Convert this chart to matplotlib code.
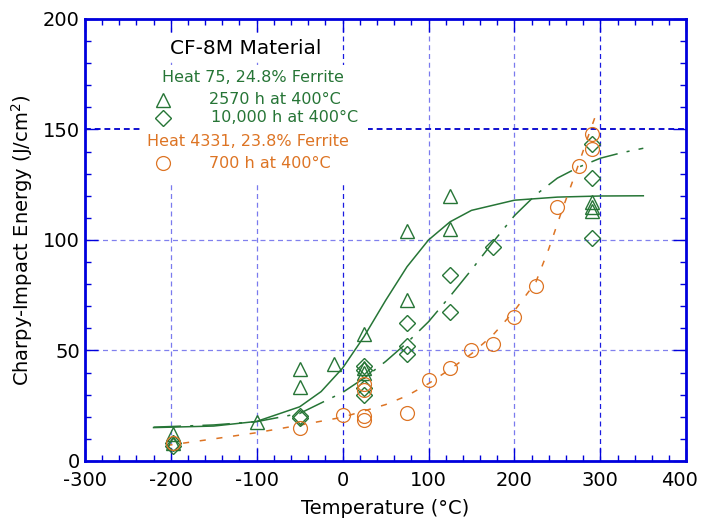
import matplotlib
matplotlib.use('Agg')
import matplotlib.pyplot as plt
import matplotlib.transforms as mtransforms
from matplotlib.patches import Rectangle
from matplotlib.ticker import MultipleLocator

plt.rcParams['axes.unicode_minus'] = False

# Heat 75, 24.8% ferrite, aged 2570 h at 400 C
temp_2570 = [-197, -197, -100, -50, -50, -10, 25, 25, 25, 75, 75, 125, 125, 290, 290, 290]
energy_2570 = [12, 8, 17.5, 41.5, 33.5, 44, 57.5, 42, 40, 104, 73, 120, 105, 117, 115, 113]

# Heat 75, 24.8% ferrite, aged 10,000 h at 400 C
temp_10000 = [-197, -197, -50, -50, 25, 25, 25, 25, 75, 75, 75, 125, 125, 175, 290, 290, 290]
energy_10000 = [8, 7, 20.5, 19.5, 43, 41, 33, 30, 62.5, 52, 48.5, 84, 67.5, 97, 143.5, 128, 101]

# Heat 4331, 23.8% ferrite, aged 700 h at 400 C
temp_700 = [-197, -50, 0, 25, 25, 25, 25, 75, 100, 125, 150, 175, 200, 225, 250, 275, 290, 290]
energy_700 = [8, 15, 21, 35, 32, 20.5, 18.5, 21.5, 36.5, 42, 50, 53, 65, 79, 115, 133.5, 148, 141]

# fitted transition curves
fit_2570_t = [-220, -150, -100, -50, -25, 0, 25, 50, 75, 100, 125, 150, 200, 250, 300, 350]
fit_2570_e = [15.1, 15.8, 17.9, 24.5, 31.4, 42, 56.3, 72.6, 87.9, 100, 108.2, 113.4, 118, 119.4, 119.9, 120]

fit_10000_t = [-220, -150, -100, -50, 0, 25, 50, 75, 100, 125, 150, 175, 200, 225, 250, 275, 300, 325, 350]
fit_10000_e = [15.3, 16.3, 17.8, 21.5, 31, 37.5, 45, 53.5, 63, 74.5, 86.5, 99, 111, 120.5, 128, 133, 137, 139.5, 141.5]

fit_700_t = [-205, -150, -100, -50, 0, 50, 75, 100, 125, 150, 175, 200, 225, 240, 255, 270, 285, 296]
fit_700_e = [7, 10, 12.8, 16.2, 19.8, 25.5, 29.5, 35, 41.5, 48.5, 57, 68, 81, 96, 113, 129, 146, 158]

green = '#267536'
orange = '#dd7424'
blue = '#0000dd'

fig = plt.figure(figsize=(7.01, 5.23), dpi=100)
ax = fig.add_axes([0.121, 0.1186, 0.858, 0.8451])

ax.set_xlim(-300, 400)
ax.set_ylim(0, 200)
ax.xaxis.set_major_locator(MultipleLocator(100))
ax.xaxis.set_minor_locator(MultipleLocator(20))
ax.yaxis.set_major_locator(MultipleLocator(50))
ax.yaxis.set_minor_locator(MultipleLocator(10))

# grid lines, a few drawn heavier
for x in [-200, -100, 0, 100, 200, 300]:
    dark = x in (0, 300)
    ax.axvline(x, color='#1a1ae0' if dark else '#7a7aee', lw=0.9, dashes=(4, 3), zorder=0)
for y in [50, 100, 150]:
    dark = y == 150
    ax.axhline(y, color='#1010d0' if dark else '#8080ee', lw=1.4 if dark else 0.9,
               dashes=(3, 2) if dark else (4, 3), zorder=0)

ax.plot(fit_2570_t, fit_2570_e, color=green, lw=1.1, zorder=2)
ax.plot(fit_10000_t, fit_10000_e, color=green, lw=1.1, dashes=(18, 6, 2, 6), zorder=2)
ax.plot(fit_700_t, fit_700_e, color=orange, lw=1.1, dashes=(4, 7), zorder=2)

ax.plot(temp_2570, energy_2570, ls='none', marker='^', ms=10, mfc='none', mec=green, mew=1.0, zorder=3)
ax.plot(temp_10000, energy_10000, ls='none', marker='D', ms=8.5, mfc='none', mec=green, mew=1.0, zorder=3)
ax.plot(temp_700, energy_700, ls='none', marker='o', ms=10, mfc='none', mec=orange, mew=0.9, zorder=3)

# key block in the upper left
ax.add_patch(Rectangle((0.0915, 0.629), 0.38, 0.267, transform=ax.transAxes,
                       facecolor='white', edgecolor='none', zorder=4))
ax.text(0.267, 0.934, 'CF-8M Material', transform=ax.transAxes, ha='center', va='center',
        fontsize=14.5, color='black', zorder=5,
        bbox=dict(facecolor='white', edgecolor='none', pad=2))
ax.text(0.28, 0.868, 'Heat 75, 24.8% Ferrite', transform=ax.transAxes, ha='center', va='center',
        fontsize=11.5, color=green, zorder=5)
ax.text(0.206, 0.817, '2570 h at 400°C', transform=ax.transAxes, ha='left', va='center',
        fontsize=11.5, color=green, zorder=5)
ax.text(0.209, 0.776, '10,000 h at 400°C', transform=ax.transAxes, ha='left', va='center',
        fontsize=11.5, color=green, zorder=5)
ax.text(0.104, 0.723, 'Heat 4331, 23.8% Ferrite', transform=ax.transAxes, ha='left', va='center',
        fontsize=11.5, color=orange, zorder=5)
ax.text(0.206, 0.674, '700 h at 400°C', transform=ax.transAxes, ha='left', va='center',
        fontsize=11.5, color=orange, zorder=5)
ax.plot([0.13], [0.817], transform=ax.transAxes, marker='^', ms=10, mfc='none', mec=green, mew=1.0, zorder=5)
ax.plot([0.13], [0.776], transform=ax.transAxes, marker='D', ms=8.5, mfc='none', mec=green, mew=1.0, zorder=5)
ax.plot([0.13], [0.674], transform=ax.transAxes, marker='o', ms=10, mfc='none', mec=orange, mew=0.9, zorder=5)

for s in ax.spines.values():
    s.set_color(blue)
    s.set_linewidth(2)
    s.set_zorder(6)

ax.tick_params(which='both', direction='in', top=True, right=True, color=blue)
ax.tick_params(which='major', length=9.5, width=1.0, labelsize=14)
ax.tick_params(which='minor', length=4.5, width=1.0)
ax.tick_params(axis='x', pad=7)
ax.tick_params(axis='y', pad=3.5)

ax.set_xlabel('Temperature (°C)', fontsize=14, labelpad=7)
ax.set_ylabel('Charpy-Impact Energy (J/cm$^2$)', fontsize=14, labelpad=6)

# keep the 400 label inside the figure edge
fig.canvas.draw()
for tick in ax.xaxis.get_major_ticks():
    if tick.label1.get_text() == '400':
        shift = mtransforms.ScaledTranslation(-5 / 72, 0, fig.dpi_scale_trans)
        tick.label1.set_transform(tick.label1.get_transform() + shift)

fig.savefig('out.png', dpi=100)
